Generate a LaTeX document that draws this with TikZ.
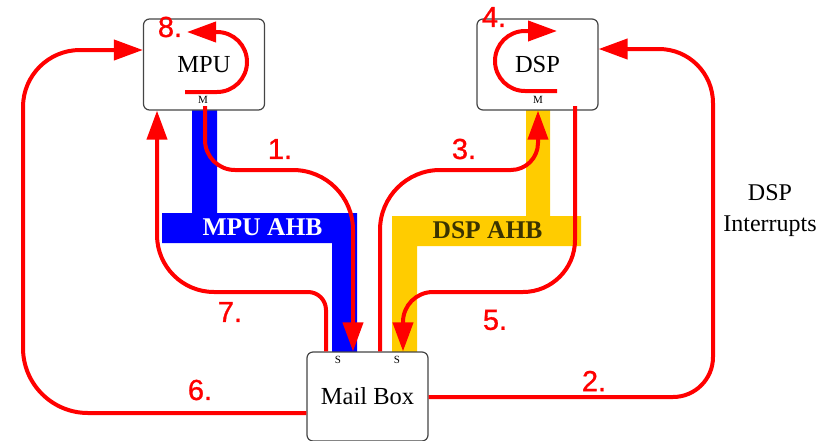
\documentclass[tikz,border=0pt]{standalone}
\usepackage{fontspec}
\setmainfont{Liberation Serif}
\newfontfamily\numfont[FakeBold=1]{Liberation Sans}
\usetikzlibrary{arrows.meta,calc}
\definecolor{busblue}{HTML}{0000FF}
\definecolor{busyellow}{HTML}{FFCC00}
\definecolor{dsptext}{HTML}{3A3300}
\definecolor{boxgray}{HTML}{454545}
\begin{document}
\begin{tikzpicture}[x=1pt,y=-1pt,
  unit/.style={draw=boxgray, line width=1.2pt, fill=white, rounded corners=6pt,
    minimum width=121pt, minimum height=91pt, inner sep=0pt,
    font=\fontsize{24.5}{28}\selectfont},
  flow/.style={draw=red, line width=4pt, -{Triangle[length=29pt,width=20pt]}},
  num/.style={text=red, font=\numfont\fontsize{29}{30}\selectfont, inner sep=0pt},
  port/.style={inner sep=0pt, font=\fontsize{11}{12}\selectfont},
  buslabel/.style={inner sep=0pt, font=\bfseries\fontsize{25.5}{28}\selectfont},
  note/.style={inner sep=0pt, align=center, font=\fontsize{24}{31}\selectfont}]
\useasboundingbox (0,0) rectangle (822,440);

% buses
\fill[busblue] (192,108) -- (217,108) -- (217,213) -- (357,213) -- (357,352)
  -- (332,352) -- (332,243) -- (162,243) -- (162,213) -- (192,213) -- cycle;
\fill[busyellow] (526,108) -- (550,108) -- (550,216) -- (581,216) -- (581,246)
  -- (417,246) -- (417,352) -- (392,352) -- (392,216) -- (526,216) -- cycle;
\node[buslabel, text=white] (mahb) at (262.5,227.5) {MPU AHB};
\node[buslabel, text=dsptext] (dahb) at (487.5,230.5) {DSP AHB};

% units
\node[unit] (mpu) at (204,64.5) {MPU};
\node[unit] (dsp) at (537.5,64.5) {DSP};
\node[unit, minimum height=89pt] (mb) at (367.5,396.5) {Mail Box};

\node[port] (mpum) at (203,100) {M};
\node[port] (dspm) at (538,100) {M};
\node[port] (mbs1) at (338,360) {S};
\node[port] (mbs2) at (397,360) {S};

% 1.
\draw[flow] (205,106) -- (205,140) .. controls (205,156.6) and (218.4,170) .. (235,170)
  -- (293,170) .. controls (326.1,170) and (353,196.9) .. (353,230) -- (353,0 |- mb.north);
% 7.
\draw[flow] (326,0 |- mb.north) -- (326,310) .. controls (326,300) and (318,292) .. (308,292)
  -- (214,292) .. controls (182.5,292) and (157,266.5) .. (157,235) -- (157,0 |- mpu.south);
% 3.
\draw[flow] (380,0 |- mb.north) -- (380,230) .. controls (380,196.9) and (406.9,170) .. (440,170)
  -- (511,170) .. controls (525.9,170) and (538,157.9) .. (538,143) -- (538,0 |- dsp.south);
% 5.
\draw[flow] (575,106) -- (575,240) .. controls (575,268.7) and (551.7,292) .. (523,292)
  -- (433,292) .. controls (416.4,292) and (403,305.4) .. (403,322) -- (403,0 |- mb.north);
% 2.
\draw[flow] (mb.east |- 0,397) -- (673,397) .. controls (695.1,397) and (713,379.1) .. (713,357)
  -- (713,103) .. controls (713,73.2) and (688.8,49) .. (659,49) -- (dsp.east |- 0,49);
% 6.
\draw[flow] (mb.west |- 0,413) -- (88,413) .. controls (52.1,413) and (23,383.9) .. (23,348)
  -- (23,107) .. controls (23,75.5) and (48.5,50) .. (80,50) -- (mpu.west |- 0,50);
% 8.
\draw[flow] (185,92) -- (217,92) .. controls (233.6,92) and (247,78.6) .. (247,62)
  .. controls (247,45.4) and (233.6,32) .. (217,32) -- (187,32);
% 4.
\draw[flow] (557,91) -- (525,91) .. controls (508.4,91) and (495,77.6) .. (495,61)
  .. controls (495,44.4) and (508.4,31) .. (525,31) -- (557,31);

% labels
\node[num] (n1) at (280,149) {1.};
\node[num] (n2) at (594,381) {2.};
\node[num] (n3) at (464,149) {3.};
\node[num] (n4) at (494,17) {4.};
\node[num] (n5) at (495,320) {5.};
\node[num] (n6) at (200,390) {6.};
\node[num] (n7) at (230,312) {7.};
\node[num] (n8) at (170,27) {8.};

\node[note] (irq) at (770,211) {DSP\\Interrupts};
\end{tikzpicture}
\end{document}
